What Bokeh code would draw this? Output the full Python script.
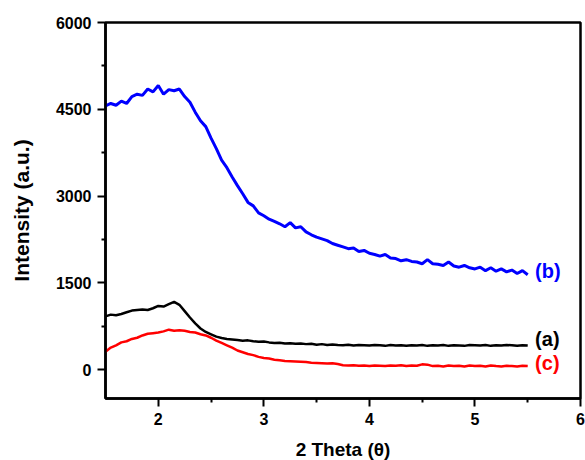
from bokeh.plotting import figure
from bokeh.models import Range1d, FixedTicker, Label
from bokeh.embed import file_html
from bokeh.resources import INLINE

two_theta = [1.50, 1.55, 1.60, 1.65, 1.70, 1.75, 1.80, 1.85, 1.90, 1.95,
             2.00, 2.05, 2.10, 2.15, 2.20, 2.25, 2.30, 2.35, 2.40, 2.45,
             2.50, 2.55, 2.60, 2.65, 2.70, 2.75, 2.80, 2.85, 2.90, 2.95,
             3.00, 3.05, 3.10, 3.15, 3.20, 3.25, 3.30, 3.35, 3.40, 3.45,
             3.50, 3.55, 3.60, 3.65, 3.70, 3.75, 3.80, 3.85, 3.90, 3.95,
             4.00, 4.05, 4.10, 4.15, 4.20, 4.25, 4.30, 4.35, 4.40, 4.45,
             4.50, 4.55, 4.60, 4.65, 4.70, 4.75, 4.80, 4.85, 4.90, 4.95,
             5.00, 5.05, 5.10, 5.15, 5.20, 5.25, 5.30, 5.35, 5.40, 5.45,
             5.50]

series_b = [4560, 4600, 4570, 4640, 4600, 4720, 4760, 4740, 4850, 4800,
            4910, 4760, 4840, 4820, 4850, 4720, 4620, 4450, 4300, 4200,
            4000, 3820, 3620, 3490, 3330, 3180, 3040, 2890, 2830, 2710,
            2660, 2600, 2560, 2520, 2470, 2540, 2450, 2470, 2380, 2330,
            2290, 2260, 2230, 2180, 2150, 2120, 2090, 2100, 2040, 2060,
            2010, 1990, 1960, 1990, 1930, 1920, 1880, 1900, 1870, 1860,
            1830, 1900, 1830, 1820, 1800, 1860, 1790, 1770, 1800, 1760,
            1740, 1770, 1710, 1760, 1700, 1740, 1690, 1720, 1660, 1710,
            1640]

series_a = [920, 950, 940, 960, 990, 1020, 1030, 1040, 1030, 1060,
            1100, 1090, 1130, 1170, 1120, 1010, 900, 800, 710, 650,
            610, 570, 545, 530, 520, 510, 500, 505, 490, 480,
            485, 470, 460, 465, 450, 455, 445, 450, 440, 445,
            430, 440, 425, 435, 425, 420, 430, 415, 425, 420,
            415, 425, 420, 410, 425, 415, 420, 410, 420, 415,
            425, 410, 420, 415, 425, 410, 420, 415, 410, 425,
            420, 415, 425, 410, 420, 415, 425, 420, 410, 420,
            415]

series_c = [310, 380, 420, 470, 490, 530, 550, 590, 620, 630,
            640, 660, 690, 670, 680, 670, 650, 640, 610, 590,
            550, 500, 460, 420, 380, 330, 300, 270, 250, 220,
            200, 190, 170, 160, 150, 145, 140, 135, 130, 120,
            115, 110, 105, 110, 95, 75, 70, 75, 65, 70,
            60, 70, 65, 60, 70, 65, 75, 60, 70, 65,
            90, 85, 60, 65, 55, 70, 60, 65, 55, 70,
            60, 65, 55, 70, 60, 55, 65, 60, 55, 65,
            60]

x_ticks = [2, 3, 4, 5, 6]
x_minor = [2.5, 3.5, 4.5, 5.5]
y_ticks = [0, 1500, 3000, 4500, 6000]
y_minor = [750, 2250, 3750, 5250]

labels = ["(b)", "(a)", "(c)"]
label_y = [1700, 530, 110]
label_colors = ["#0000ff", "#000000", "#ff0000"]

x_title = "2 Theta (θ)"
y_title = "Intensity (a.u.)"

FONT = "Liberation Sans"

p = figure(frame_width=475, frame_height=376,
           x_range=Range1d(1.5, 6), y_range=Range1d(-500, 6000),
           output_backend="svg", toolbar_location=None,
           min_border_left=105, min_border_right=5,
           min_border_top=22, min_border_bottom=62,
           background_fill_color="white", border_fill_color="white")

p.xgrid.visible = False
p.ygrid.visible = False
p.outline_line_color = "black"
p.outline_line_width = 2.5

p.line(two_theta, series_b, line_color="#0000ff", line_width=3)
p.line(two_theta, series_a, line_color="#000000", line_width=2.5)
p.line(two_theta, series_c, line_color="#ff0000", line_width=2.5)

for t, yv, c in zip(labels, label_y, label_colors):
    p.add_layout(Label(x=5.57, y=yv, text=t, text_color=c,
                       text_font=FONT, text_font_style="bold",
                       text_font_size="20px", text_baseline="middle",
                       text_align="left"))

p.xaxis.ticker = FixedTicker(ticks=x_ticks, minor_ticks=x_minor)
p.yaxis.ticker = FixedTicker(ticks=y_ticks, minor_ticks=y_minor)

for ax in (p.xaxis[0], p.yaxis[0]):
    ax.axis_line_width = 2.5
    ax.axis_line_color = "black"
    ax.major_tick_line_width = 2
    ax.minor_tick_line_width = 2
    ax.major_tick_in = 0
    ax.major_tick_out = 8
    ax.minor_tick_in = 0
    ax.minor_tick_out = 4
    ax.major_label_text_font = FONT
    ax.major_label_text_font_style = "bold"
    ax.major_label_text_font_size = "16px"
    ax.major_label_text_color = "black"
    ax.major_label_standoff = 6
    ax.axis_label_text_font = FONT
    ax.axis_label_text_font_style = "bold"
    ax.axis_label_text_color = "black"

p.yaxis.axis_label = y_title
p.yaxis.axis_label_text_font_size = "21px"
p.yaxis.axis_label_standoff = 20
p.yaxis.major_label_orientation = "horizontal"

p.xaxis.axis_label = x_title
p.xaxis.axis_label_text_font_size = "19px"
p.xaxis.axis_label_standoff = 11

open("out.html", "w").write(file_html(p, INLINE))
